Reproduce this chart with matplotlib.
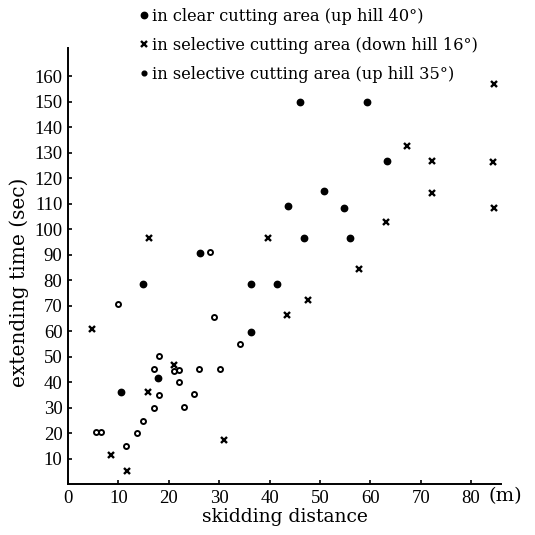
import matplotlib
matplotlib.use("Agg")
import matplotlib.pyplot as plt
from matplotlib.lines import Line2D

# filled dots: clear cutting area (up hill 40 deg)
clear_x = [46.1, 59.4, 63.3, 50.8, 43.7, 54.8, 46.9, 55.9, 36.4, 41.4, 36.4,
           14.9, 26.2, 10.6, 17.9]
clear_y = [150, 150, 126.8, 114.8, 109, 108.3, 96.5, 96.5, 78.5, 78.5, 59.8,
           78.4, 90.8, 36.3, 41.8]

# crosses: selective cutting area (down hill 16 deg)
down_x = [84.6, 67.2, 72.2, 84.3, 72.2, 84.5, 63.1, 39.7, 57.7, 47.6, 43.5,
          16.1, 4.7, 15.9, 21.1, 8.5, 11.8, 31.0]
down_y = [156.8, 132.6, 126.8, 126.3, 114.3, 108.3, 102.7, 96.5, 84.4, 72.3,
          66.4, 96.7, 60.8, 36.1, 46.8, 11.6, 5.3, 17.4]

# open circles: selective cutting area (up hill 35 deg)
up_x = [10.0, 28.2, 29.0, 34.1, 18.1, 17.1, 22.1, 21.1, 26.0, 30.2, 22.1,
        18.1, 25.1, 17.1, 23.1, 14.9, 13.8, 5.6, 6.5, 11.6]
up_y = [70.8, 91, 65.5, 54.9, 50.3, 45.4, 44.8, 44.5, 45.1, 45.1, 40.1,
        35.1, 35.6, 30.0, 30.2, 25.0, 20.0, 20.4, 20.4, 15.2]

legend_labels = ["in clear cutting area (up hill 40°)",
                 "in selective cutting area (down hill 16°)",
                 "in selective cutting area (up hill 35°)"]

plt.rcParams['font.family'] = ['Liberation Serif', 'DejaVu Serif']
text_font = ['DejaVu Serif']

fig = plt.figure(figsize=(5.35, 5.35), dpi=100)
ax = fig.add_axes([0.127, 0.0944, 0.81, 0.816])

ax.plot(clear_x, clear_y, 'o', color='black', markersize=4.6, linestyle='none')
ax.plot(down_x, down_y, 'x', color='black', markersize=4.5, markeredgewidth=1.7,
        linestyle='none')
ax.plot(up_x, up_y, 'o', markerfacecolor='white', markeredgecolor='black',
        markersize=3.6, markeredgewidth=1.4, linestyle='none')

ax.set_xlim(0, 86)
ax.set_ylim(0, 171)
ax.set_xticks(range(0, 90, 10))
ax.set_yticks(range(10, 170, 10))
ax.spines['top'].set_visible(False)
ax.spines['right'].set_visible(False)
ax.spines['left'].set_linewidth(1.4)
ax.spines['bottom'].set_linewidth(1.4)
ax.tick_params(direction='in', length=3, width=1.2, labelsize=13.5, pad=4)

ax.set_xlabel("skidding distance", fontsize=13.5, family=text_font, labelpad=1)
ax.set_ylabel("extending time (sec)", fontsize=14.5, family=text_font)
ax.yaxis.set_label_coords(-0.09, 0.464)
fig.text(0.945, 0.072, "(m)", fontsize=14, ha='center', va='center',
         family=text_font)

handles = [
    Line2D([], [], marker='o', color='black', markersize=4.6, linestyle='none'),
    Line2D([], [], marker='x', color='black', markersize=4.5,
           markeredgewidth=1.7, linestyle='none'),
    Line2D([], [], marker='o', color='black', markersize=3.4, linestyle='none'),
]
fig.legend(handles, legend_labels, loc='upper left',
           bbox_to_anchor=(0.24, 1.006), frameon=False,
           prop={'family': text_font, 'size': 11.7},
           handlelength=0.5, handletextpad=0.25, labelspacing=0.72,
           borderpad=0.2)

fig.savefig("out.png", dpi=100)
